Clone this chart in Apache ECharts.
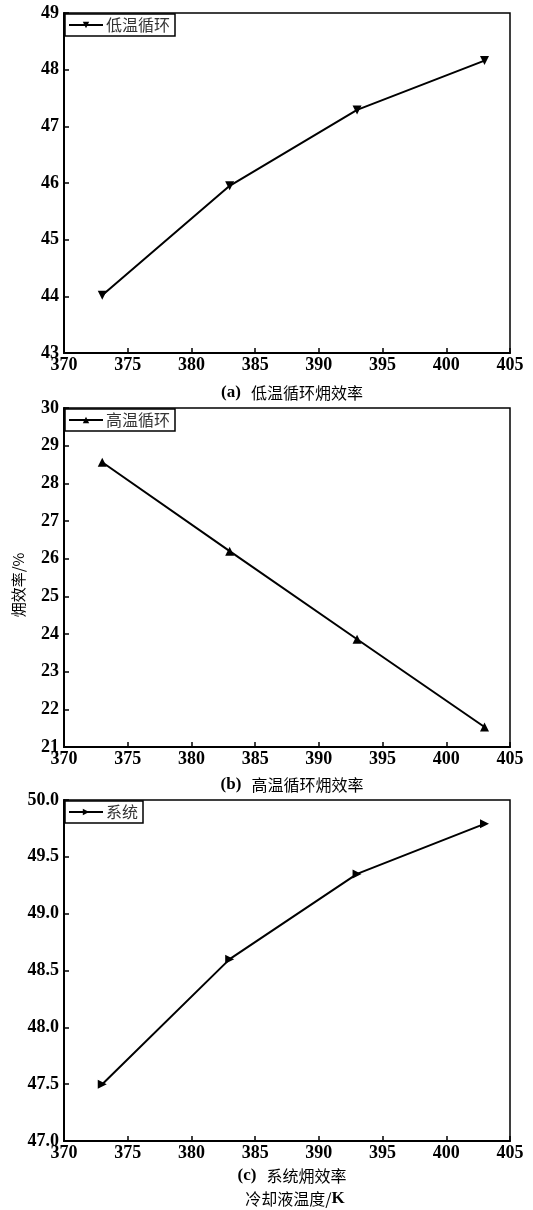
<!DOCTYPE html>
<html>
<head>
<meta charset="utf-8">
<script src="https://cdn.jsdelivr.net/npm/echarts@6/dist/echarts.min.js"></script>
<style>
html,body{margin:0;padding:0;background:#fff;}
#chart{width:533px;height:1210px;}
</style>
</head>
<body>
<div id="chart"></div>
<script>
// Coolant temperature (K)
const temps = [373, 383, 393, 403];
// Exergy efficiency (%) of each cycle
const lowTempCycle = [44.02, 45.95, 47.29, 48.16];
const highTempCycle = [28.56, 26.2, 23.86, 21.53];
const systemTotal = [47.5, 48.6, 49.35, 49.79];

const seriesNames = ['低温循环', '高温循环', '系统'];
const captions = [['(a)', '低温循环㶲效率'], ['(b)', '高温循环㶲效率'], ['(c)', '系统㶲效率']];
const yRanges = [[43, 49, 1], [21, 30, 1], [47, 50, 0.5]];
const xRange = [370, 405, 5];

const grids = [
  {left: 64, right: 23, top: 13, height: 340},
  {left: 64, right: 23, top: 408, height: 339},
  {left: 64, right: 23, top: 800, height: 341}
];

const CJK = '"Noto Sans CJK SC", sans-serif';
const SERIF = '"Liberation Serif", "DejaVu Serif", serif';

const chart = echarts.init(document.getElementById('chart'));

const xAxes = [], yAxes = [], series = [], legends = [], titles = [];
const symbolRot = [180, 0, -90];
const dataSets = [lowTempCycle, highTempCycle, systemTotal];

grids.forEach((g, i) => {
  xAxes.push({
    gridIndex: i, type: 'value', min: xRange[0], max: xRange[1], interval: xRange[2],
    axisLine: {lineStyle: {color: '#000', width: 2}},
    axisTick: {inside: true, length: 5, lineStyle: {color: '#000', width: 1.5}},
    axisLabel: {color: '#000', fontFamily: SERIF, fontWeight: 'bold', fontSize: 18, margin: 3},
    splitLine: {show: false}
  });
  const yr = yRanges[i];
  yAxes.push({
    gridIndex: i, type: 'value', min: yr[0], max: yr[1], interval: yr[2],
    axisLine: {lineStyle: {color: '#000', width: 2}},
    axisTick: {inside: true, length: 5, lineStyle: {color: '#000', width: 1.5}},
    axisLabel: {
      color: '#000', fontFamily: SERIF, fontWeight: 'bold', fontSize: 18, margin: 5,
      formatter: v => yr[2] < 1 ? v.toFixed(1) : String(v)
    },
    splitLine: {show: false}
  });
  series.push({
    name: seriesNames[i], type: 'line', xAxisIndex: i, yAxisIndex: i,
    data: temps.map((t, k) => [t, dataSets[i][k]]),
    symbol: 'triangle', symbolSize: 9, symbolRotate: symbolRot[i],
    lineStyle: {color: '#000', width: 2},
    itemStyle: {color: '#000'},
    emphasis: {disabled: true}
  });
  legends.push({
    data: [seriesNames[i]], left: g.left + 1, top: g.top + 1,
    orient: 'vertical', itemWidth: 34, itemHeight: 8, itemGap: 0,
    padding: [3, 5, 3, 3],
    borderColor: '#000', borderWidth: 1.5, borderRadius: 0,
    backgroundColor: '#fff',
    textStyle: {fontFamily: CJK, fontSize: 16, color: '#333', padding: [0, 0, 0, -2]},
    selectedMode: false
  });
});

const captionTops = [377, 769, 1160];
captionTops.forEach((t, i) => {
  titles.push({
    text: '{b|' + captions[i][0] + '}  {c|' + captions[i][1] + '}',
    left: 287, top: t, textAlign: 'center',
    textStyle: {
      rich: {
        b: {fontFamily: SERIF, fontWeight: 'bold', fontSize: 17, color: '#000', lineHeight: 22, verticalAlign: 'middle'},
        c: {fontFamily: CJK, fontWeight: 'normal', fontSize: 16, color: '#000', lineHeight: 22, verticalAlign: 'middle'}
      }
    }
  });
});
titles.push({
  text: '{c|冷却液温度/}{b|K}', left: 290, top: 1183, textAlign: 'center',
  textStyle: {
    rich: {
      b: {fontFamily: SERIF, fontWeight: 'bold', fontSize: 17, color: '#000', lineHeight: 22, verticalAlign: 'middle'},
      c: {fontFamily: CJK, fontWeight: 'normal', fontSize: 16, color: '#000', lineHeight: 22, verticalAlign: 'middle'}
    }
  }
});

chart.setOption({
  animation: false,
  backgroundColor: '#fff',
  grid: grids.map(g => Object.assign({show: true, borderColor: '#000', borderWidth: 1.5, backgroundColor: 'transparent'}, g)),
  xAxis: xAxes,
  yAxis: yAxes,
  series: series,
  legend: legends,
  title: titles,
  graphic: [{
    type: 'text', x: 18, y: 585, rotation: Math.PI / 2,
    style: {text: '㶲效率/%', fontFamily: CJK, fontSize: 15, fill: '#000', align: 'center', verticalAlign: 'middle'}
  }]
});
</script>
</body>
</html>
